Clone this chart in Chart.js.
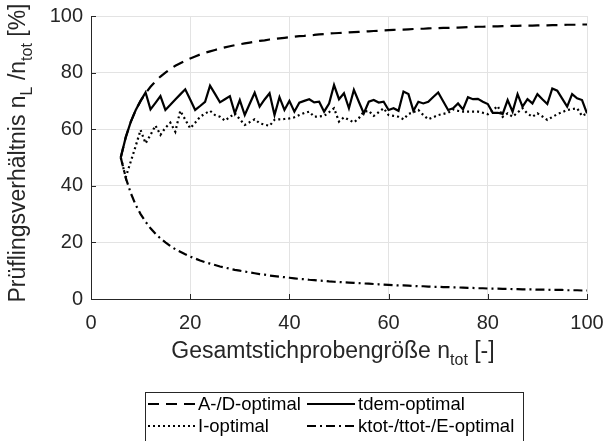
<!DOCTYPE html>
<html>
<head>
<meta charset="utf-8">
<script src="https://cdn.jsdelivr.net/npm/chart.js@4"></script>
<style>
  html, body { margin: 0; padding: 0; background: #fff; }
</style>
</head>
<body>
<canvas id="ratioChart" width="603" height="441"></canvas>
<script>
// total sample size n_tot
const sampleSizes = [
  6, 7, 8, 9, 10, 11, 12, 13, 14, 15,
  16, 17, 18, 19, 20, 21, 22, 23, 24, 25,
  26, 27, 28, 29, 30, 31, 32, 33, 34, 35,
  36, 37, 38, 39, 40, 41, 42, 43, 44, 45,
  46, 47, 48, 49, 50, 51, 52, 53, 54, 55,
  56, 57, 58, 59, 60, 61, 62, 63, 64, 65,
  66, 67, 68, 69, 70, 71, 72, 73, 74, 75,
  76, 77, 78, 79, 80, 81, 82, 83, 84, 85,
  86, 87, 88, 89, 90, 91, 92, 93, 94, 95,
  96, 97, 98, 99, 100
];

// share of specimens n_L / n_tot in %
const adOptimal = [
  50, 57.1, 62.5, 66.7, 70, 72.7, 75, 76.9, 78.6, 80,
  81.3, 82.4, 83.3, 84.2, 85, 85.7, 86.4, 87, 87.5, 88,
  88.5, 88.9, 89.3, 89.7, 90, 90.3, 90.6, 90.9, 91.2, 91.4,
  91.7, 91.9, 92.1, 92.3, 92.5, 92.7, 92.9, 93, 93.2, 93.3,
  93.5, 93.6, 93.8, 93.9, 94, 94.1, 94.2, 94.3, 94.4, 94.5,
  94.6, 94.7, 94.8, 94.9, 95, 95.1, 95.2, 95.2, 95.3, 95.4,
  95.5, 95.5, 95.6, 95.7, 95.7, 95.8, 95.8, 95.9, 95.9, 96,
  96.1, 96.1, 96.2, 96.2, 96.3, 96.3, 96.3, 96.4, 96.4, 96.5,
  96.5, 96.6, 96.6, 96.6, 96.7, 96.7, 96.7, 96.8, 96.8, 96.8,
  96.9, 96.9, 96.9, 97, 97
];

const tdemOptimal = [
  50, 57.1, 62.5, 66.7, 70, 73, 67, 69.3, 71.7, 66.8,
  68.6, 70.5, 72.3, 74.1, 70.5, 66.8, 68.2, 69.7, 75.4, 72.5,
  69.5, 70.6, 71.7, 65.6, 70.3, 65, 69, 72.9, 68, 70.5,
  72.7, 65, 71.3, 66.8, 70, 66.2, 69.4, 70, 70.6, 69.5,
  69.7, 66.2, 69.1, 75.6, 70.6, 72.7, 67.4, 73.9, 69.7, 65.6,
  69.7, 70.3, 69.4, 69.7, 66.8, 67.4, 66.5, 73.3, 72.4, 66.5,
  69.7, 69.1, 69.7, 71.4, 73, 69.9, 66.8, 67.4, 69.1, 67,
  71.3, 70.6, 70.7, 69.7, 68.9, 65.8, 65.8, 65.4, 70.3, 66.2,
  72.4, 68, 70.6, 69.1, 72.4, 70.6, 68.9, 74.4, 73.6, 70.8,
  68, 72.4, 70.9, 70.3, 65.6
];

const iOptimal = [
  50, 43, 48.5, 54, 59.7, 55, 58, 61.3, 58, 60.5,
  62.3, 59.1, 66.5, 63.4, 60.3, 62.3, 64.4, 65.5, 66.5, 65,
  64.4, 63, 64.3, 65.6, 63.5, 61.5, 62.5, 63.5, 62.1, 61.6,
  61.2, 63.3, 63.5, 63.6, 63.8, 64.2, 65, 65.7, 66.2, 64.4,
  64.5, 64.7, 66, 67.4, 62.7, 64.2, 63.3, 62.4, 63.9, 66.2,
  66.5, 64.7, 66, 67.4, 65, 64.7, 64.4, 63.5, 65.4, 66,
  66.8, 65, 63.5, 64.2, 65, 65.4, 65.8, 67, 66.5, 66.2,
  66.2, 66.2, 66.2, 65.8, 65.3, 66.7, 68.2, 64.4, 65.6, 64.4,
  65.9, 67.4, 65.5, 64.4, 65.6, 64.5, 63.3, 64.3, 65.3, 66,
  66.8, 67.1, 67.4, 64.7, 65.6
];

const eOptimal = [
  50, 42.9, 37.5, 33.3, 30, 27.3, 25, 23.1, 21.4, 20,
  18.7, 17.6, 16.7, 15.8, 15, 14.3, 13.6, 13, 12.5, 12,
  11.5, 11.1, 10.7, 10.3, 10, 9.7, 9.4, 9.1, 8.8, 8.6,
  8.3, 8.1, 7.9, 7.7, 7.5, 7.3, 7.1, 7, 6.8, 6.7,
  6.5, 6.4, 6.2, 6.1, 6, 5.9, 5.8, 5.7, 5.6, 5.5,
  5.4, 5.3, 5.2, 5.1, 5, 4.9, 4.8, 4.8, 4.7, 4.6,
  4.5, 4.5, 4.4, 4.3, 4.3, 4.2, 4.2, 4.1, 4.1, 4,
  3.9, 3.9, 3.8, 3.8, 3.7, 3.7, 3.7, 3.6, 3.6, 3.5,
  3.5, 3.4, 3.4, 3.4, 3.3, 3.3, 3.3, 3.2, 3.2, 3.2,
  3.1, 3.1, 3.1, 3, 3
];

const seriesLabels = ['A-/D-optimal', 'tdem-optimal', 'I-optimal', 'ktot-/ttot-/E-optimal'];
const xTickValues = [0, 20, 40, 60, 80, 100];
const yTickValues = [0, 20, 40, 60, 80, 100];

const FONT = "'Liberation Sans', Arial, Helvetica, sans-serif";
const INK = '#262626';

const toPoints = vals => vals.map((v, i) => ({ x: sampleSizes[i], y: v }));

function line(label, vals, dash) {
  return {
    label: label,
    data: toPoints(vals),
    borderColor: '#000',
    backgroundColor: '#000',
    borderWidth: 2.2,
    borderDash: dash,
    pointRadius: 0,
    tension: 0,
    fill: false,
  };
}

// text with subscript pieces: parts = [[text, isSub], ...]
function drawParts(ctx, parts, x, y, size, subSize, subShift) {
  const widths = parts.map(p => {
    ctx.font = (p[1] ? subSize : size) + 'px ' + FONT;
    return ctx.measureText(p[0]).width;
  });
  let cx = x - widths.reduce((a, b) => a + b, 0) / 2;
  parts.forEach((p, i) => {
    ctx.font = (p[1] ? subSize : size) + 'px ' + FONT;
    ctx.fillText(p[0], cx, y + (p[1] ? subShift : 0));
    cx += widths[i];
  });
}

const decorations = {
  id: 'decorations',
  afterDraw(chart) {
    const { ctx, chartArea: a, scales: { x, y } } = chart;
    ctx.save();

    // tick marks point into the plot
    ctx.strokeStyle = INK;
    ctx.lineWidth = 1;
    ctx.setLineDash([]);
    ctx.beginPath();
    x.ticks.forEach(t => {
      const px = Math.round(x.getPixelForValue(t.value)) + 0.5;
      ctx.moveTo(px, a.bottom);
      ctx.lineTo(px, a.bottom - 5);
    });
    y.ticks.forEach(t => {
      const py = Math.round(y.getPixelForValue(t.value)) + 0.5;
      ctx.moveTo(a.left, py);
      ctx.lineTo(a.left + 5, py);
    });
    ctx.stroke();

    // axis titles
    ctx.fillStyle = INK;
    ctx.textBaseline = 'alphabetic';
    ctx.textAlign = 'left';
    drawParts(ctx, [['Gesamtstichprobengröße n', false], ['tot', true], [' [-]', false]],
      333, 358, 23, 16, 7);

    ctx.save();
    ctx.translate(25, 153);
    ctx.rotate(-Math.PI / 2);
    drawParts(ctx, [['Prüflingsverhältnis n', false], ['L', true], [' /n', false], ['tot', true], [' [%]', false]],
      0, 0, 23, 16, 7);
    ctx.restore();

    // legend below the axes: [sample start, sample length, text x, row y]
    ctx.fillStyle = '#fff';
    ctx.fillRect(145, 392, 378, 60);
    ctx.strokeStyle = INK;
    ctx.lineWidth = 1;
    ctx.strokeRect(145.5, 392.5, 378, 60);
    const slots = [[148, 48, 198, 404], [307, 48, 358, 404], [148, 48, 198, 426], [307, 48, 358, 426]];
    ctx.textBaseline = 'middle';
    ctx.font = '18.5px ' + FONT;
    chart.data.datasets.forEach((ds, i) => {
      const [lx, len, tx, ly] = slots[i];
      ctx.strokeStyle = '#000';
      ctx.lineWidth = ds.borderWidth;
      ctx.setLineDash(ds.borderDash || []);
      ctx.beginPath();
      ctx.moveTo(lx, ly);
      ctx.lineTo(lx + len, ly);
      ctx.stroke();
      ctx.setLineDash([]);
      ctx.fillStyle = '#000';
      ctx.fillText(ds.label, tx, ly + 1);
    });
    ctx.restore();
  }
};

new Chart(document.getElementById('ratioChart'), {
  type: 'line',
  data: {
    datasets: [
      line(seriesLabels[0], adOptimal, [11, 7]),
      line(seriesLabels[1], tdemOptimal, []),
      line(seriesLabels[2], iOptimal, [2, 3]),
      line(seriesLabels[3], eOptimal, [9, 4, 2, 4]),
    ]
  },
  options: {
    responsive: false,
    animation: false,
    layout: { padding: { top: 16, right: 16, left: 0, bottom: 0 } },
    plugins: { legend: { display: false }, tooltip: { enabled: false } },
    scales: {
      x: {
        type: 'linear',
        min: 0,
        max: 100,
        afterBuildTicks: s => { s.ticks = xTickValues.map(v => ({ value: v })); },
        afterFit: s => { s.height = 142; s.paddingLeft = 0; s.paddingRight = 0; },
        grid: { color: '#e3e3e3', drawTicks: false },
        border: { color: INK, width: 1 },
        ticks: { color: INK, font: { family: FONT, size: 20 }, padding: 12, maxRotation: 0 },
      },
      y: {
        min: 0,
        max: 100,
        afterBuildTicks: s => { s.ticks = yTickValues.map(v => ({ value: v })); },
        afterFit: s => { s.width = 91; s.paddingTop = 0; s.paddingBottom = 0; },
        grid: { color: '#e3e3e3', drawTicks: false },
        border: { color: INK, width: 1 },
        ticks: { color: INK, font: { family: FONT, size: 20 }, padding: 8 },
      }
    }
  },
  plugins: [decorations]
});
</script>
</body>
</html>
